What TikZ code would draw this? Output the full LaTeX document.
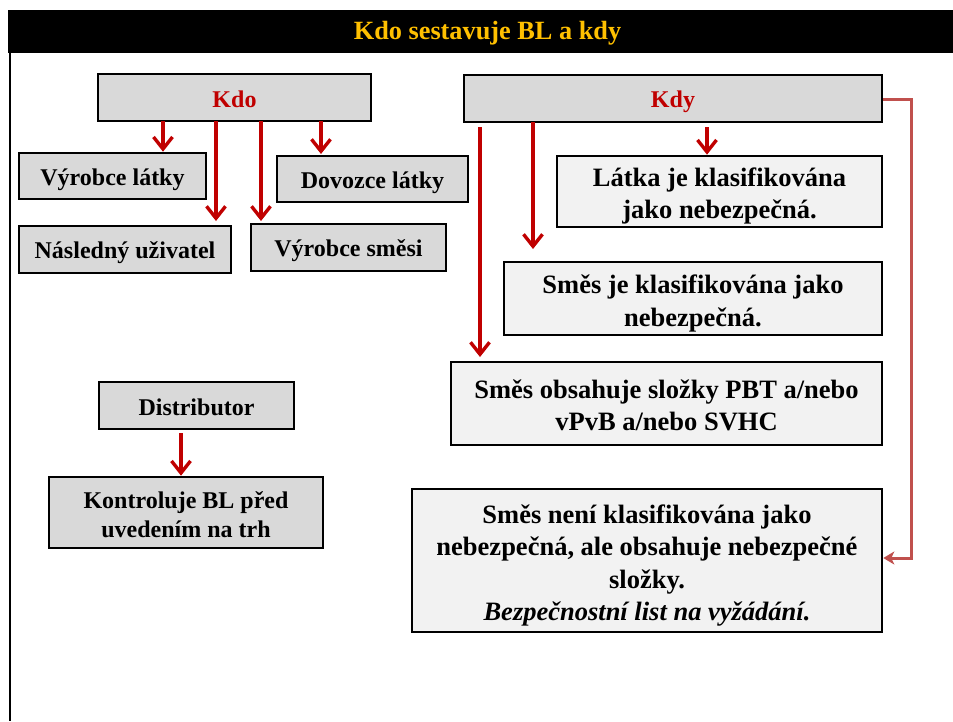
\documentclass[tikz,border=0pt]{standalone}
\usepackage{fontspec}
\setmainfont{Liberation Serif}
\usetikzlibrary{arrows.meta}
\definecolor{darkred}{HTML}{C00000}
\definecolor{softred}{HTML}{C0504D}
\definecolor{gold}{HTML}{FFC000}
\definecolor{boxgray}{HTML}{D9D9D9}
\definecolor{boxlight}{HTML}{F2F2F2}
\tikzset{
  boxA/.style={draw=black, line width=2.6pt, fill=boxgray, inner sep=0pt},
  boxB/.style={draw=black, line width=2.6pt, fill=boxlight, inner sep=0pt},
  txtA/.style={inner sep=0pt, font=\fontsize{24}{29}\selectfont\bfseries, align=center},
  txtB/.style={inner sep=0pt, font=\fontsize{26.5}{32.5}\selectfont\bfseries, align=center},
  redarrow/.style={draw=darkred, line width=3.4pt, -{Straight Barb[length=12pt,width=19pt]}},
  sidearrow/.style={draw=softred, line width=3pt, -{Stealth[length=11pt,width=13pt,inset=3pt]}},
}
% #1 box options, #2 name, #3 position, #4 text options, #5 text shift, #6 text
\newcommand{\tbox}[6]{%
  \node[#1] (#2) at (#3) {};
  \node[#4, yshift=-#5] (#2-t) at (#2.center) {#6};
}
\begin{document}
\begin{tikzpicture}[x=1pt,y=-1pt]
\useasboundingbox (0,0) rectangle (953,721);
% title bar
\fill[black] (8,10) rectangle (953,53);
\node[text=gold, font=\fontsize{26.3}{30}\selectfont\bfseries] (title) at (487.5,33) {Kdo sestavuje BL a kdy};
\draw[line width=2.2pt] (10,53) -- (10,721);
% Kdo
\tbox{boxA, minimum width=273pt, minimum height=47pt}{kdo}{234.5,97.5}{txtA, text=darkred}{2pt}{Kdo}
\tbox{boxA, minimum width=187pt, minimum height=46pt}{vl}{112.5,176}{txtA}{3.5pt}{Výrobce látky}
\tbox{boxA, minimum width=191pt, minimum height=46pt}{dl}{372.5,179}{txtA}{3.5pt}{Dovozce látky}
\tbox{boxA, minimum width=212pt, minimum height=47pt}{nu}{125,249.5}{txtA}{3.5pt}{Následný uživatel}
\tbox{boxA, minimum width=195pt, minimum height=47pt}{vs}{348.5,247.5}{txtA}{3.5pt}{Výrobce směsi}
\coordinate (k1) at (163,121);
\coordinate (k2) at (216,121);
\coordinate (k3) at (261,121);
\coordinate (k4) at (321,121);
\coordinate (k2e) at (216,221);
\coordinate (k3e) at (261,221);
\coordinate (k4e) at (321,154);
\draw[redarrow] (k1) -- (k1 |- vl.north);
\draw[redarrow] (k2) -- (k2e);
\draw[redarrow] (k3) -- (k3e);
\draw[redarrow] (k4) -- (k4e);
% Distributor
\tbox{boxA, minimum width=195pt, minimum height=47pt}{dist}{196.5,405.5}{txtA}{2pt}{Distributor}
\tbox{boxA, minimum width=274pt, minimum height=71pt}{kontr}{186,512.5}{txtA}{2pt}{Kontroluje BL před\\uvedením na trh}
\coordinate (d1) at (181,433);
\draw[redarrow] (d1) -- (d1 |- kontr.north);
% Kdy
\tbox{boxA, minimum width=418pt, minimum height=47pt}{kdy}{673,98.5}{txtA, text=darkred}{3.5pt}{Kdy}
\tbox{boxB, minimum width=325pt, minimum height=71pt}{latka}{719.5,191.5}{txtB}{4.5pt}{Látka je klasifikována\\jako nebezpečná.}
\tbox{boxB, minimum width=378pt, minimum height=73pt}{smes1}{693,298.5}{txtB}{5pt}{Směs je klasifikována jako\\nebezpečná.}
\tbox{boxB, minimum width=431pt, minimum height=83pt}{smes2}{666.5,403.5}{txtB}{2pt}{Směs obsahuje složky PBT a/nebo\\vPvB a/nebo SVHC}
\tbox{boxB, minimum width=470pt, minimum height=143pt}{smes3}{647,560.5}{txtB}{5pt}{Směs není klasifikována jako\\nebezpečná, ale obsahuje nebezpečné\\složky.\\\textit{Bezpečnostní list na vyžádání.}}
\coordinate (y1) at (480,127);
\coordinate (y1e) at (480,357);
\coordinate (y2) at (533,122);
\coordinate (y2e) at (533,249);
\coordinate (y3) at (707,127);
\draw[redarrow] (y1) -- (y1e);
\draw[redarrow] (y2) -- (y2e);
\draw[redarrow] (y3) -- (y3 |- latka.north);
\coordinate (c1) at (911,99);
\coordinate (c2) at (911,558);
\draw[sidearrow] (kdy.east |- c1) -- (c1) -- (c2) -- (c2 -| smes3.east);
\end{tikzpicture}
\end{document}
